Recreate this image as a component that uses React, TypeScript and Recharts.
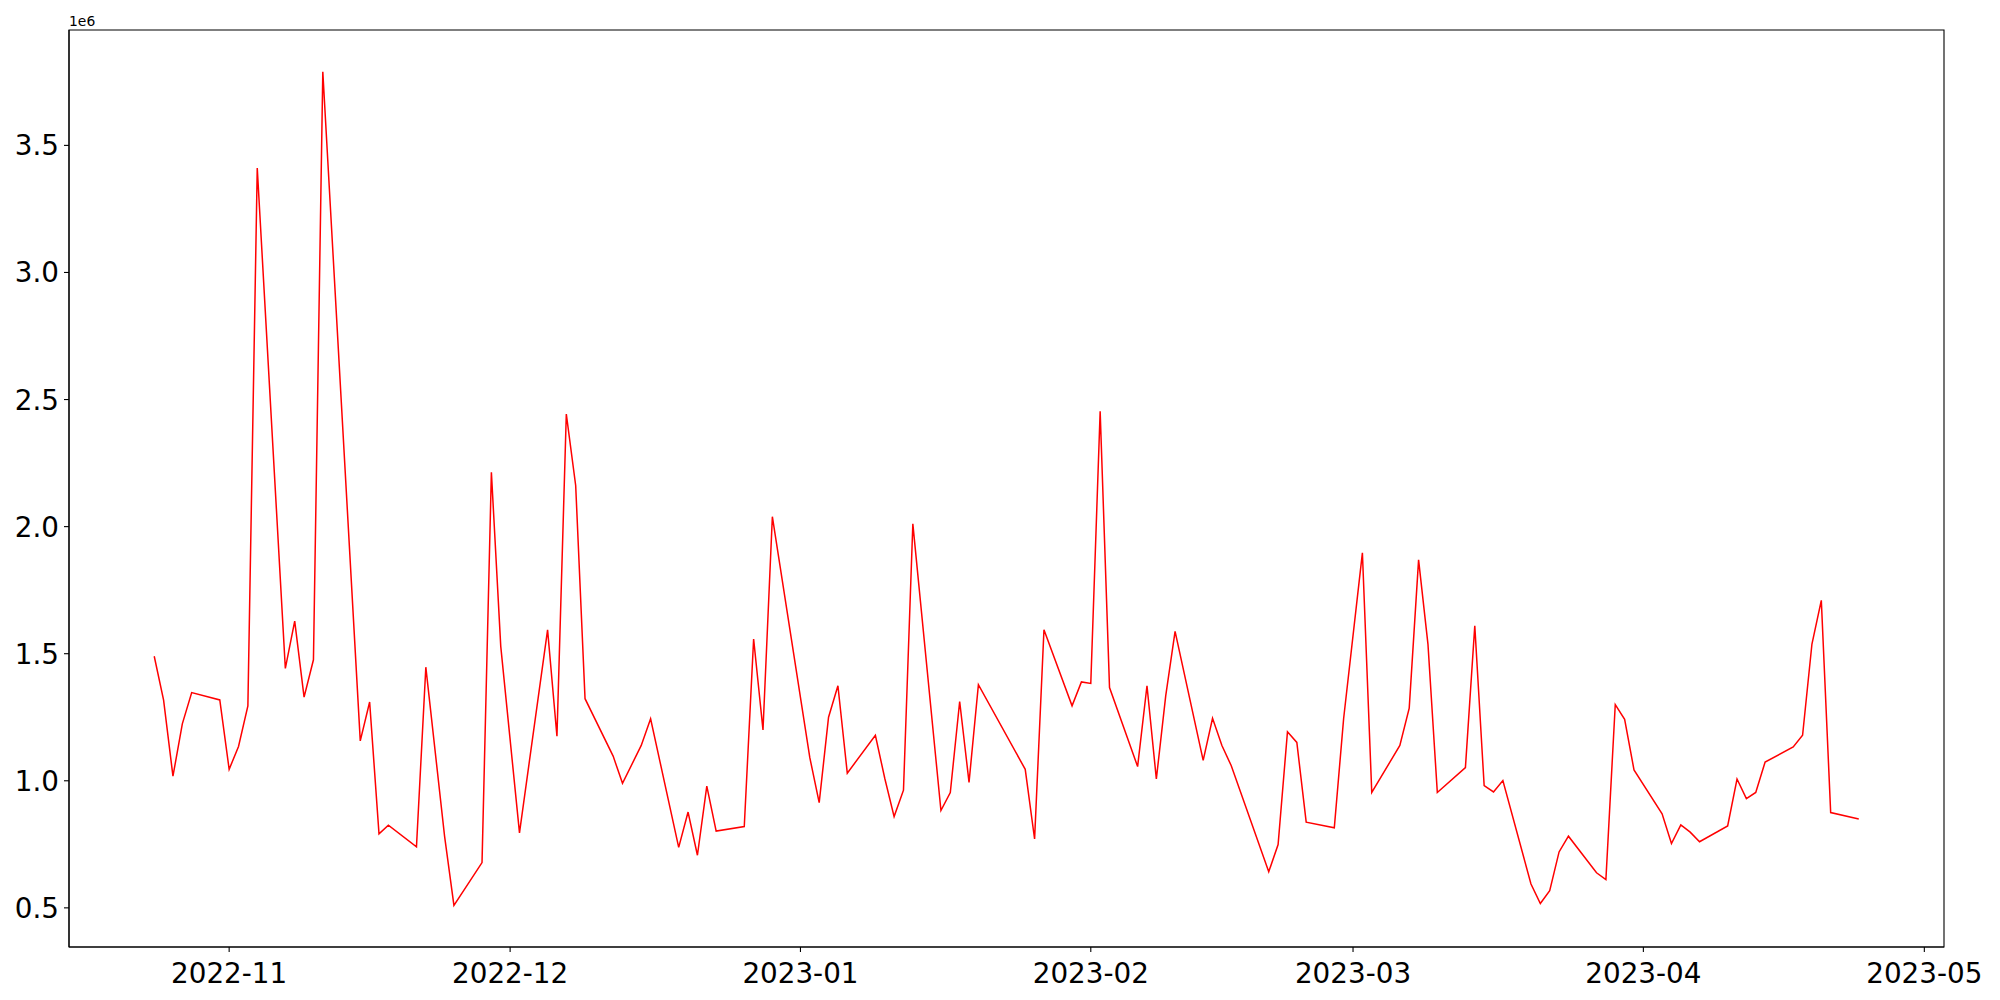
import { LineChart, Line, XAxis, YAxis, ReferenceArea } from "recharts";

// daily values (gaps are days with no point)
const dates = [
  "2022-10-24", "2022-10-25", "2022-10-26", "2022-10-27", "2022-10-28", "2022-10-31",
  "2022-11-01", "2022-11-02", "2022-11-03", "2022-11-04", "2022-11-07", "2022-11-08", "2022-11-09",
  "2022-11-10", "2022-11-11", "2022-11-15", "2022-11-16", "2022-11-17", "2022-11-18", "2022-11-21",
  "2022-11-22", "2022-11-24", "2022-11-25", "2022-11-28", "2022-11-29", "2022-11-30",
  "2022-12-02", "2022-12-05", "2022-12-06", "2022-12-07", "2022-12-08", "2022-12-09", "2022-12-12",
  "2022-12-13", "2022-12-15", "2022-12-16", "2022-12-19", "2022-12-20", "2022-12-21", "2022-12-22",
  "2022-12-23", "2022-12-26", "2022-12-27", "2022-12-28", "2022-12-29",
  "2023-01-02", "2023-01-03", "2023-01-04", "2023-01-05", "2023-01-06", "2023-01-09", "2023-01-10",
  "2023-01-11", "2023-01-12", "2023-01-13", "2023-01-16", "2023-01-17", "2023-01-18", "2023-01-19",
  "2023-01-20", "2023-01-25", "2023-01-26", "2023-01-27", "2023-01-30", "2023-01-31",
  "2023-02-01", "2023-02-02", "2023-02-03", "2023-02-06", "2023-02-07", "2023-02-08", "2023-02-09",
  "2023-02-10", "2023-02-13", "2023-02-14", "2023-02-15", "2023-02-16", "2023-02-20", "2023-02-21",
  "2023-02-22", "2023-02-23", "2023-02-24", "2023-02-27", "2023-02-28",
  "2023-03-02", "2023-03-03", "2023-03-06", "2023-03-07", "2023-03-08", "2023-03-09", "2023-03-10",
  "2023-03-13", "2023-03-14", "2023-03-15", "2023-03-16", "2023-03-17", "2023-03-20", "2023-03-21",
  "2023-03-22", "2023-03-23", "2023-03-24", "2023-03-27", "2023-03-28", "2023-03-29", "2023-03-30",
  "2023-03-31",
  "2023-04-03", "2023-04-04", "2023-04-05", "2023-04-06", "2023-04-07", "2023-04-10", "2023-04-11",
  "2023-04-12", "2023-04-13", "2023-04-14", "2023-04-17", "2023-04-18", "2023-04-19", "2023-04-20",
  "2023-04-21", "2023-04-24",
];

const values = [
  1490000, 1317000, 1018000, 1224000, 1347000, 1318000,
  1045000, 1135000, 1295000, 3411000, 1442000, 1628000, 1329000,
  1476000, 3790000, 1157000, 1310000, 791000, 825000, 740000,
  1447000, 782000, 510000, 678000, 2214000, 1529000,
  795000, 1594000, 1175000, 2443000, 2162000, 1323000, 1097000,
  990000, 1139000, 1244000, 738000, 877000, 707000, 979000,
  802000, 820000, 1558000, 1200000, 2039000,
  1091000, 914000, 1250000, 1374000, 1030000, 1179000, 1010000,
  859000, 963000, 2011000, 883000, 954000, 1312000, 994000,
  1378000, 1045000, 771000, 1594000, 1295000, 1389000,
  1383000, 2454000, 1367000, 1056000, 1374000, 1007000, 1334000,
  1588000, 1080000, 1246000, 1139000, 1059000, 642000, 749000,
  1193000, 1151000, 837000, 815000, 1246000,
  1897000, 954000, 1139000, 1286000, 1869000, 1538000, 954000,
  1052000, 1610000, 981000, 956000, 1001000, 594000, 517000,
  568000, 720000, 782000, 638000, 611000, 1300000, 1242000,
  1043000,
  870000, 753000, 826000, 798000, 760000, 822000, 1007000,
  930000, 954000, 1074000, 1133000, 1179000, 1538000, 1710000,
  875000, 850000,
];

const monthTicks = [
  "2022-11-01", "2022-12-01", "2023-01-01", "2023-02-01", "2023-03-01", "2023-04-01", "2023-05-01",
];
const yTicks = [500000, 1000000, 1500000, 2000000, 2500000, 3000000, 3500000];

const FONT = "'DejaVu Sans', sans-serif";
const TICK_FONT = 27.8;

const data = dates.map((d, i) => ({ t: Date.parse(d), v: values[i] }));

// matplotlib-style 5% margins
function padDomain(lo: number, hi: number): [number, number] {
  const p = (hi - lo) * 0.05;
  return [lo - p, hi + p];
}
const xDomain = padDomain(data[0].t, data[data.length - 1].t);
const yDomain = padDomain(Math.min(...values), Math.max(...values));

function XTick(props: any) {
  const { x, y, payload } = props;
  const label = new Date(payload.value).toISOString().slice(0, 7);
  return (
    <text x={x} y={y} dy={26} textAnchor="middle" fontSize={TICK_FONT} fontFamily={FONT} fill="#000">
      {label}
    </text>
  );
}

function YTick(props: any) {
  const { x, y, payload } = props;
  return (
    <text x={x} y={y} dy={10} textAnchor="end" fontSize={TICK_FONT} fontFamily={FONT} fill="#000">
      {(payload.value / 1e6).toFixed(1)}
    </text>
  );
}

export default function App() {
  return (
    <div style={{ position: "absolute", left: 0, top: 0, width: 2000, height: 1000, background: "#fff" }}>
      <LineChart width={2000} height={1000} data={data} margin={{ top: 30, right: 56, bottom: 0, left: 0 }}>
        <XAxis
          dataKey="t"
          type="number"
          scale="linear"
          domain={xDomain}
          allowDataOverflow
          ticks={monthTicks.map((m) => Date.parse(m))}
          tick={<XTick />}
          tickSize={5}
          tickMargin={5}
          height={53}
          axisLine={{ stroke: "#000", strokeWidth: 1.1 }}
          tickLine={{ stroke: "#000", strokeWidth: 1.1 }}
          interval={0}
        />
        <YAxis
          type="number"
          domain={yDomain}
          allowDataOverflow
          ticks={yTicks}
          tick={<YTick />}
          tickSize={5}
          tickMargin={5}
          width={69}
          axisLine={{ stroke: "#000", strokeWidth: 1.1 }}
          tickLine={{ stroke: "#000", strokeWidth: 1.1 }}
          interval={0}
        />
        <ReferenceArea
          x1={xDomain[0]}
          x2={xDomain[1]}
          y1={yDomain[0]}
          y2={yDomain[1]}
          fill="none"
          fillOpacity={0}
          stroke="#000"
          strokeWidth={1.1}
          ifOverflow="visible"
        />
        <Line
          type="linear"
          dataKey="v"
          stroke="#ff0000"
          strokeWidth={1.5}
          dot={false}
          activeDot={false}
          isAnimationActive={false}
        />
      </LineChart>
      <svg width={200} height={40} style={{ position: "absolute", left: 0, top: 0, pointerEvents: "none" }}>
        <text x={69} y={26} fontSize={13.9} fontFamily={FONT} fill="#000">
          1e6
        </text>
      </svg>
    </div>
  );
}
